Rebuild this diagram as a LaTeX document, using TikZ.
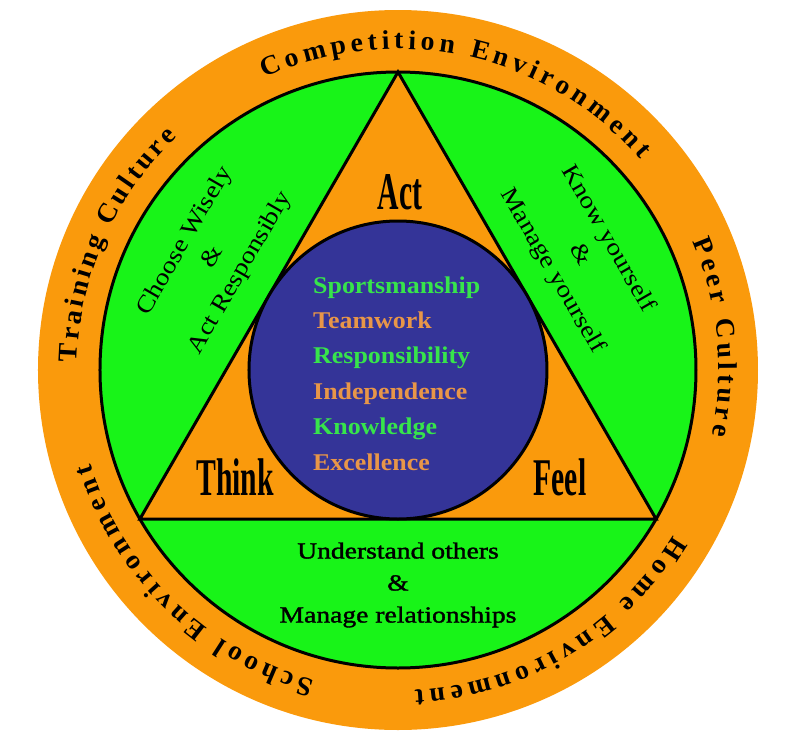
\documentclass[tikz,border=0pt]{standalone}
\usepackage{fontspec}
\setmainfont{Liberation Serif}
\newfontfamily\ringfont[FakeStretch=1.03]{Liberation Serif}
\newfontfamily\tallfont[FakeStretch=0.56]{Liberation Serif}
\newfontfamily\wordfont[FakeStretch=1.15]{Liberation Serif}
\newfontfamily\heavyfont[FakeStretch=1.2,FakeBold=1.6]{Liberation Serif}
\newfontfamily\valuefont[FakeStretch=1.08]{Liberation Serif}
\usepackage{tikz}
\usetikzlibrary{decorations.text}
\definecolor{ringorange}{RGB}{250,154,12}
\definecolor{ringgreen}{RGB}{24,244,24}
\definecolor{coreblue}{RGB}{52,52,152}
\definecolor{valgreen}{RGB}{55,228,75}
\definecolor{valorange}{RGB}{232,150,72}

\begin{document}
\begin{tikzpicture}[x=1pt,y=1pt,
tall/.style={font=\tallfont\bfseries\fontsize{53}{53}\selectfont,anchor=base,inner sep=0},
words/.style={font=\wordfont\fontsize{24}{32}\selectfont,align=center,inner sep=0},
value/.style={font=\valuefont\bfseries\fontsize{24}{24}\selectfont,anchor=base west,inner sep=0},
ringtext/.style={decorate,decoration={text along path,text align=fit to path,
   text={|\ringfont\bfseries\fontsize{27}{27}\selectfont|#1}}}]
\useasboundingbox (-398,-370) rectangle (398,370);
\fill[ringorange] (0,0) circle[radius=360];
\filldraw[fill=ringgreen,line width=3] (0,0) circle[radius=298];
\coordinate (apex) at (90:298);
\coordinate (lbase) at (210:298);
\coordinate (rbase) at (330:298);
\filldraw[fill=ringorange,line width=3] (apex) -- (lbase) -- (rbase) -- cycle;
\filldraw[fill=coreblue,line width=3] (0,0) circle[radius=149];
\path[ringtext={Competition Environment}] (114.5:321) arc[start angle=114.5,end angle=41,radius=321];
\path[ringtext={Peer Culture}] (23.5:321) arc[start angle=23.5,end angle=-11.7,radius=321];
\path[ringtext={Home Environment}] (-31:321) arc[start angle=-31,end angle=-87,radius=321];
\path[ringtext={School Environment}] (-105:321) arc[start angle=-105,end angle=-163,radius=321];
\path[ringtext={Training Culture}] (178.7:321) arc[start angle=178.7,end angle=133.5,radius=321];
\node[tall] (act) at (2,161) {Act};
\node[tall] (think) at (-163,-125) {Think};
\node[tall] (feel) at (162,-125) {Feel};
\node[words,rotate=60] (choose) at (-185,113) {Choose Wisely\\\&\\Act Responsibly};
\node[words,rotate=-60] (know) at (182,115) {Know yourself\\\&\\Manage yourself};
\node[words,font=\heavyfont\fontsize{23}{32}\selectfont] (understand) at (0,-215) {Understand others\\\&\\Manage relationships};
\foreach \i/\w/\c in %
{0/Sportsmanship/valgreen,1/Teamwork/valorange,2/Responsibility/valgreen,
 3/Independence/valorange,4/Knowledge/valgreen,5/Excellence/valorange} {
   \node[value,text=\c] (val\i) at (-85,77-35.4*\i) {\w};
}
\end{tikzpicture}
\end{document}
